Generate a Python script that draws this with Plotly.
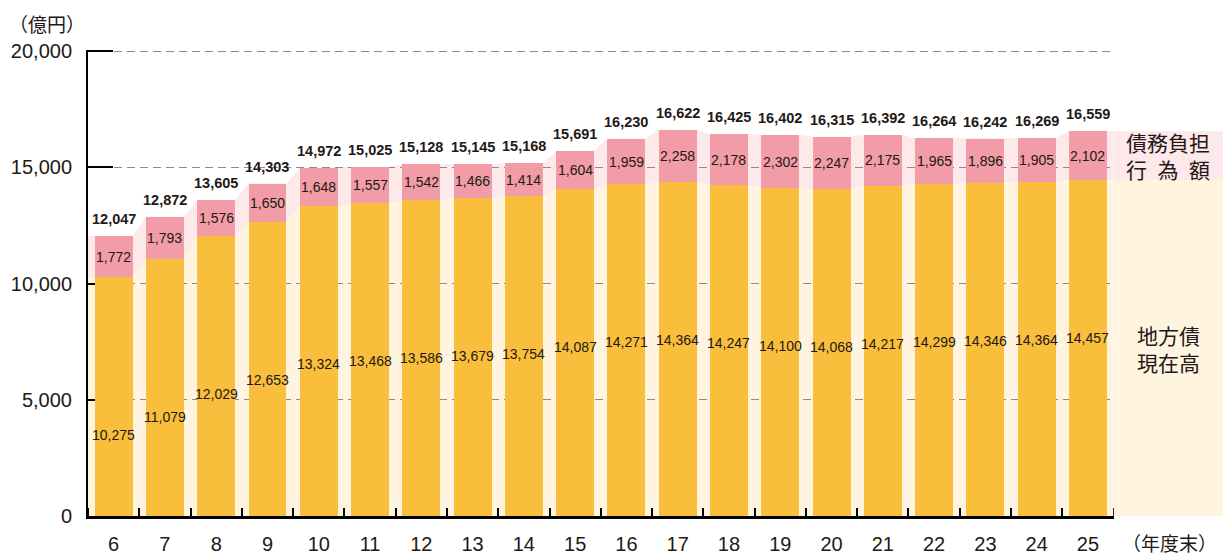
import plotly.graph_objects as go

# ---- data ----
years = [6, 7, 8, 9, 10, 11, 12, 13, 14, 15, 16, 17, 18, 19, 20, 21, 22, 23, 24, 25]
local_bonds = [10275, 11079, 12029, 12653, 13324, 13468, 13586, 13679, 13754, 14087,
               14271, 14364, 14247, 14100, 14068, 14217, 14299, 14346, 14364, 14457]
debt_burden = [1772, 1793, 1576, 1650, 1648, 1557, 1542, 1466, 1414, 1604,
               1959, 2258, 2178, 2302, 2247, 2175, 1965, 1896, 1905, 2102]
totals = [12047, 12872, 13605, 14303, 14972, 15025, 15128, 15145, 15168, 15691,
          16230, 16622, 16425, 16402, 16315, 16392, 16264, 16242, 16269, 16559]
y_ticks = [0, 5000, 10000, 15000, 20000]

# ---- style ----
YELLOW = "#F9BE3B"
PINK = "#F19CA6"
LIGHT_YELLOW = "#FEF4E0"
LIGHT_PINK = "#FDE8EA"
TXT = "#231815"
SANS = "Liberation Sans, Arial, Helvetica, sans-serif"
CJK = "Noto Sans CJK JP, sans-serif"
BAR_W = 0.74
X0, X1 = years[0] - 0.5, years[-1] + 0.5
MAIN_DOM = 0.9036

fig = go.Figure()

fig.add_trace(go.Bar(x=years, y=local_bonds, width=BAR_W, name="地方債現在高",
                     marker=dict(color=YELLOW, line=dict(width=0))))
fig.add_trace(go.Bar(x=years, y=debt_burden, width=BAR_W, name="債務負担行為額",
                     marker=dict(color=PINK, line=dict(width=0))))

# right-hand label panel bands (continuation of the last bar)
fig.add_trace(go.Scatter(x=[0, 1], y=[local_bonds[-1]] * 2, xaxis="x2", yaxis="y2",
                         mode="none", fill="tozeroy", fillcolor=LIGHT_YELLOW,
                         showlegend=False, hoverinfo="skip"))
fig.add_trace(go.Scatter(x=[0, 1], y=[totals[-1]] * 2, xaxis="x2", yaxis="y2",
                         mode="none", fill="tonexty", fillcolor=LIGHT_PINK,
                         showlegend=False, hoverinfo="skip"))

# background bands connecting the bars
def step_points(vals):
    pts = [(X0, vals[0])]
    for yr, v in zip(years, vals):
        pts.append((yr - BAR_W / 2, v))
        pts.append((yr + BAR_W / 2, v))
    pts.append((X1, vals[-1]))
    return pts

top_pts = step_points(totals)
mid_pts = step_points(local_bonds)

def to_path(pts):
    return "M " + " L ".join(f"{x},{y}" for x, y in pts) + " Z"

pink_path = to_path(top_pts + mid_pts[::-1])
yellow_path = to_path(mid_pts + [(X1, 0), (X0, 0)])

shapes = [
    dict(type="path", path=yellow_path, xref="x", yref="y", layer="below",
         fillcolor=LIGHT_YELLOW, line=dict(width=0)),
    dict(type="path", path=pink_path, xref="x", yref="y", layer="below",
         fillcolor=LIGHT_PINK, line=dict(width=0)),
]

annotations = []
for yr, t, lb, db in zip(years, totals, local_bonds, debt_burden):
    annotations.append(dict(x=yr, y=t, xref="x", yref="y", text=f"{t:,}", showarrow=False,
                            yanchor="bottom", yshift=7,
                            font=dict(family=SANS, size=14.5, color=TXT, weight="bold")))
    annotations.append(dict(x=yr, y=lb + db / 2, xref="x", yref="y", text=f"{db:,}",
                            showarrow=False, yanchor="middle",
                            font=dict(family=SANS, size=14, color=TXT)))
    annotations.append(dict(x=yr, y=lb - 6800, xref="x", yref="y", text=f"{lb:,}",
                            showarrow=False, yanchor="middle",
                            font=dict(family=SANS, size=14, color=TXT)))

annotations += [
    dict(x=0.5, y=(local_bonds[-1] + totals[-1]) / 2, xref="x2", yref="y2",
         text="債務負担<br>行\u2002為\u2002額", showarrow=False, align="center",
         font=dict(family=CJK, size=21, color=TXT)),
    dict(x=0.5, y=local_bonds[-1] / 2, xref="x2", yref="y2",
         text="地方債<br>現在高", showarrow=False, align="center",
         font=dict(family=CJK, size=21, color=TXT)),
    dict(x=-0.036, y=1.056, xref="paper", yref="paper", text="（億円）", showarrow=False,
         xanchor="center", yanchor="middle", font=dict(family=CJK, size=19, color=TXT)),
    dict(x=0.953, y=-0.056, xref="paper", yref="paper", text="（年度末）", showarrow=False,
         xanchor="center", yanchor="middle", borderpad=0,
         font=dict(family=CJK, size=19, color=TXT)),
]

fig.update_layout(
    width=1223, height=556,
    margin=dict(l=88, r=0, t=50, b=40, autoexpand=False),
    paper_bgcolor="white", plot_bgcolor="rgba(0,0,0,0)",
    barmode="stack", bargap=0, showlegend=False,
    shapes=shapes, annotations=annotations,
    xaxis=dict(domain=[0, MAIN_DOM], range=[X0, X1], tickmode="array", tickvals=years,
               ticktext=[str(y) for y in years], ticks="", showgrid=False, zeroline=False,
               showline=True, linecolor="black", linewidth=2.5, layer="above traces",
               tickfont=dict(family=SANS, size=20, color=TXT), ticklabelstandoff=8,
               minor=dict(tick0=X0, dtick=1, ticks="inside", ticklen=8, tickwidth=1.5,
                          tickcolor="black", showgrid=False)),
    yaxis=dict(range=[0, 20050], tickmode="array", tickvals=y_ticks,
               ticktext=[f"{v:,}" for v in y_ticks], ticks="inside", ticklen=25,
               tickwidth=1.5, tickcolor="black", showline=True, linecolor="black",
               linewidth=2, layer="below traces", showgrid=True, gridcolor="#8c8c8c",
               gridwidth=1.3, griddash="8px,5px", zeroline=False,
               tickfont=dict(family=SANS, size=20, color=TXT), ticklabelstandoff=10),
    xaxis2=dict(domain=[MAIN_DOM, 1], range=[0, 1], visible=False, fixedrange=True),
    yaxis2=dict(anchor="x2", range=[0, 20050], visible=False, fixedrange=True),
)

# place the figure at the page's top-left corner (no default body margin)
fig.write_html("out.html", config={"displayModeBar": False},
               post_script="document.body.style.margin='0';")
